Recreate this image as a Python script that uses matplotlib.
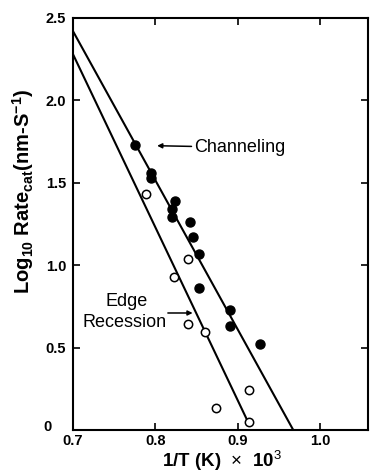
import matplotlib
matplotlib.use("Agg")
import matplotlib.pyplot as plt
from matplotlib.transforms import ScaledTranslation

# данные: каналирование (закрашенные точки)
chan_x = [0.775, 0.794, 0.794, 0.824, 0.820, 0.820, 0.842, 0.845, 0.853, 0.853, 0.890, 0.890, 0.927]
chan_y = [1.73, 1.56, 1.53, 1.39, 1.34, 1.29, 1.26, 1.17, 1.07, 0.86, 0.73, 0.63, 0.52]
# отступ края (пустые точки)
edge_x = [0.789, 0.839, 0.823, 0.839, 0.860, 0.913, 0.873, 0.913]
edge_y = [1.43, 1.04, 0.93, 0.645, 0.595, 0.245, 0.135, 0.05]
# аппроксимирующие прямые (концы)
chan_fit_x = [0.70, 0.967]
chan_fit_y = [2.42, 0.0]
edge_fit_x = [0.70, 0.913]
edge_fit_y = [2.28, 0.04]

xticks = [0.7, 0.8, 0.9, 1.0]
xticklabels = ["0.7", "0.8", "0.9", "1.0"]
yticks = [0, 0.5, 1.0, 1.5, 2.0, 2.5]
yticklabels = ["0", "0.5", "1.0", "1.5", "2.0", "2.5"]

plt.rcParams["font.family"] = "Liberation Sans"
plt.rcParams["mathtext.fontset"] = "custom"
plt.rcParams["mathtext.rm"] = "Liberation Sans"
plt.rcParams["mathtext.it"] = "Liberation Sans"
plt.rcParams["mathtext.bf"] = "Liberation Sans:bold"

fig = plt.figure(figsize=(3.70, 4.73), dpi=100)
ax = fig.add_axes([73 / 370, 1 - 430 / 473, (368 - 73) / 370, (430 - 18) / 473])

ax.plot(chan_fit_x, chan_fit_y, color="black", linewidth=1.5)
ax.plot(edge_fit_x, edge_fit_y, color="black", linewidth=1.5)
ax.plot(chan_x, chan_y, "o", color="black", markersize=6.5)
ax.plot(edge_x, edge_y, "o", markerfacecolor="white", markeredgecolor="black",
        markersize=6, markeredgewidth=1.1)

ax.set_xlim(0.7, 1.0576)
ax.set_ylim(0, 2.5)
ax.set_xticks(xticks)
ax.set_xticklabels(xticklabels, fontsize=10.5, fontweight="bold")
ax.set_yticks(yticks)
ax.set_yticklabels(yticklabels, fontsize=10.5, fontweight="bold")
ax.tick_params(direction="in", top=True, right=True, length=5, width=1.2, pad=5)
ax.tick_params(axis="x", pad=3)
for s in ax.spines.values():
    s.set_linewidth(1.5)

# подпись "0" по оси Y сдвинута влево и вверх, как в оригинале
zero_lab = ax.get_yticklabels()[0]
zero_lab.set_transform(zero_lab.get_transform()
                       + ScaledTranslation(-0.14, 0.05, fig.dpi_scale_trans))

ax.set_xlabel(r"1/T (K)  $\times$  10$^3$", fontsize=13.5, fontweight="bold", va="center")
ax.xaxis.set_label_coords(0.505, -0.076)
ax.set_ylabel(r"Log$_{\mathbf{10}}$ Rate$_{\mathbf{cat}}$(nm-S$^{\mathbf{-1}}$)",
              fontsize=14.5, fontweight="bold", va="center")
ax.yaxis.set_label_coords(-0.17, 0.578)

ax.annotate("Channeling", xy=(0.802, 1.725), xytext=(0.847, 1.715),
            fontsize=13, va="center", ha="left",
            arrowprops=dict(arrowstyle="-|>", color="black", lw=1.1,
                            mutation_scale=7, shrinkA=0, shrinkB=0))
ax.text(0.765, 0.78, "Edge", fontsize=13, ha="center", va="center")
ax.text(0.814, 0.655, "Recession", fontsize=13, ha="right", va="center")
ax.annotate("", xy=(0.845, 0.71), xytext=(0.815, 0.71),
            arrowprops=dict(arrowstyle="-|>", color="black", lw=1.1,
                            mutation_scale=7, shrinkA=0, shrinkB=0))

fig.savefig("out.png", dpi=100)
